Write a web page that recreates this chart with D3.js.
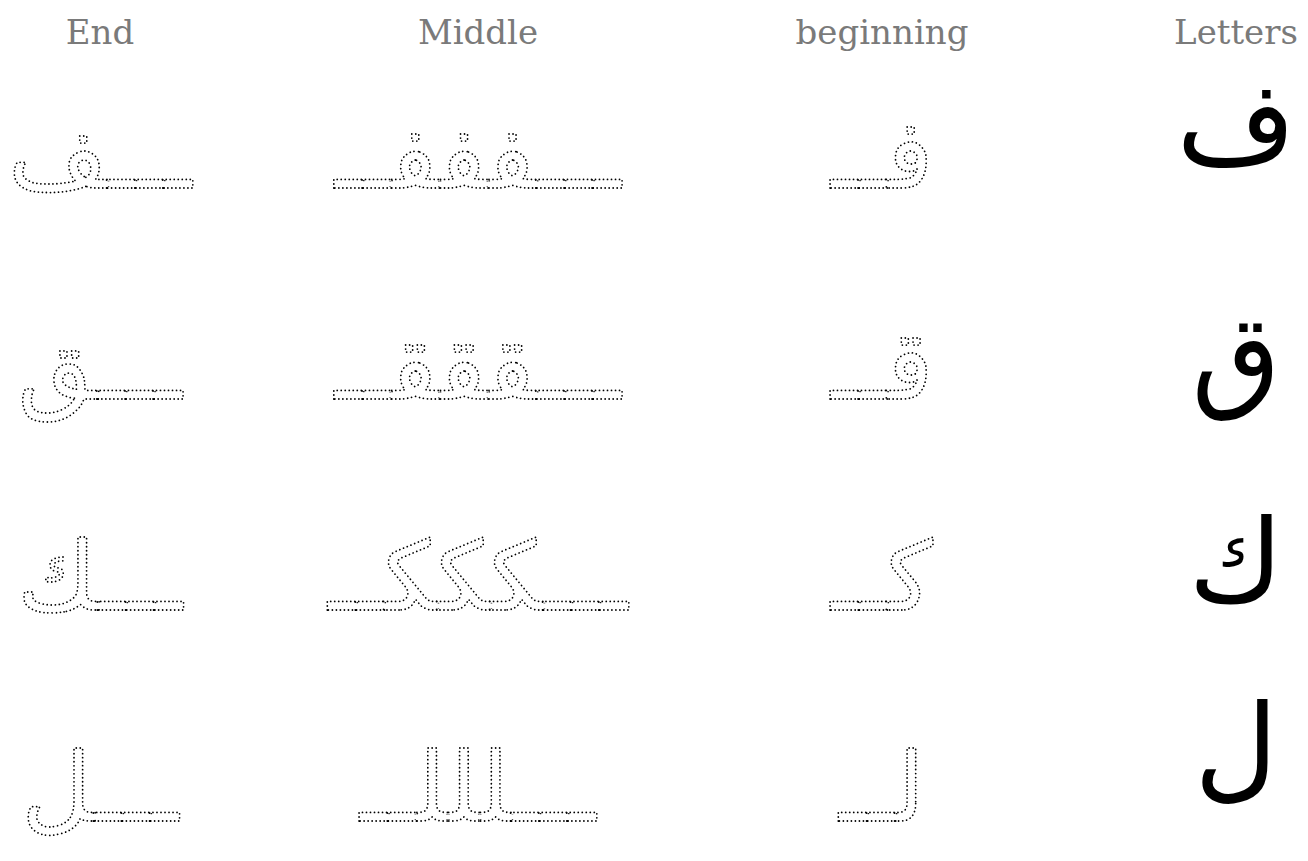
<!DOCTYPE html>
<html><head><meta charset="utf-8">
<script src="https://cdn.jsdelivr.net/npm/d3@7"></script>
<style>html,body{margin:0;padding:0;background:#fff;}svg{display:block;}</style>
</head><body>
<script>
const columns = ["End", "Middle", "beginning", "Letters"];
const letters = ["ف", "ق", "ك", "ل"];
const endForms = ["ـــف", "ـــق", "ـــك", "ـــل"];
const middleForms = ["ـــفففــ", "ـــقققــ", "ـــكككــ", "ـــلللــ"];
const beginForms = ["فــ", "قــ", "كــ", "لــ"];
const bigShift = [0, 22, 16, -10];

const W = 1308, H = 861;
const svg = d3.select("body").append("svg").attr("width", W).attr("height", H);

const defs = svg.append("defs");
defs.append("filter").attr("id", "erode")
  .append("feMorphology").attr("operator", "erode").attr("radius", 1.6);

const x = d3.scaleOrdinal().domain(columns).range([100, 478, 882, 1236]);
const y = d3.scalePoint().domain(letters).range([188, 821]);

svg.selectAll("text.hdr").data(columns).join("text")
  .attr("class", "hdr")
  .attr("x", d => x(d)).attr("y", 44)
  .attr("text-anchor", "middle")
  .attr("font-family", "'DejaVu Serif', serif")
  .attr("font-size", 34)
  .attr("fill", "#7a7a7a")
  .text(d => d);

const rows = letters.map((l, i) => ({letter: l, shift: bigShift[i], forms: [endForms[i], middleForms[i], beginForms[i]]}));

const g = svg.selectAll("g.row").data(rows).join("g").attr("class", "row");

function textBase(sel, r) {
  return sel.attr("x", d => x(d.col)).attr("y", y(r.letter))
    .attr("text-anchor", "middle")
    .attr("direction", "rtl")
    .attr("font-family", "'DejaVu Sans', sans-serif")
    .attr("font-size", 96)
    .text(d => d.f);
}

g.each(function(r) {
  const sel = d3.select(this);
  const items = r.forms.map((f, j) => ({f, col: columns[j]}));
  textBase(sel.selectAll("text.dot").data(items).join("text").attr("class", "dot"), r)
    .attr("fill", "none")
    .attr("stroke", "#000")
    .attr("stroke-width", 1.8)
    .attr("stroke-linecap", "round")
    .attr("stroke-dasharray", "0.01 4");
  textBase(sel.selectAll("text.cover").data(items).join("text").attr("class", "cover"), r)
    .attr("fill", "#fff")
    .attr("filter", "url(#erode)")
    .attr("aria-hidden", "true");
  sel.append("text")
    .attr("x", x("Letters")).attr("y", y(r.letter) - 25 + r.shift)
    .attr("text-anchor", "middle")
    .attr("font-family", "'DejaVu Sans', sans-serif")
    .attr("font-size", 115)
    .attr("fill", "#000")
    .text(r.letter);
});
</script>
</body></html>
